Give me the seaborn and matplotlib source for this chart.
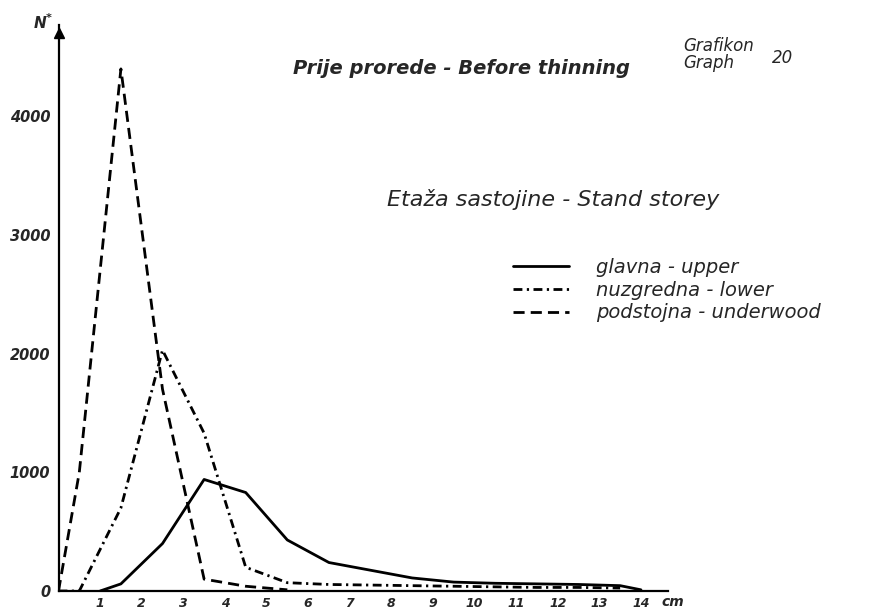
import matplotlib
matplotlib.use("Agg")
import matplotlib.pyplot as plt
import seaborn as sns

# diameter class midpoints (cm) and number of trees N* per storey
UPPER_D = [1.0, 1.5, 2.5, 3.5, 4.5, 5.5, 6.5, 7.5, 8.5, 9.5, 10.5, 11.5, 12.5, 13.5, 14.0]
UPPER_N = [0, 60, 400, 940, 830, 430, 240, 175, 110, 75, 65, 60, 55, 45, 10]

LOWER_D = [0.0, 0.5, 1.5, 2.5, 3.5, 4.5, 5.5, 6.5, 7.5, 8.5, 9.5, 10.5, 11.5, 12.5, 13.5]
LOWER_N = [0, 0, 700, 2030, 1330, 200, 70, 55, 50, 45, 40, 35, 30, 30, 25]

UNDER_D = [0.0, 0.5, 1.5, 2.5, 3.5, 4.5, 5.5]
UNDER_N = [0, 1000, 4400, 1700, 100, 40, 10]

LABELS = ["glavna - upper", "nuzgredna - lower", "podstojna - underwood"]
X_TICKS = list(range(1, 15))
Y_TICKS = [0, 1000, 2000, 3000, 4000]
Y_MINOR = [500, 1500, 2500, 3500, 4500]

W, H = 890, 609

sns.set_theme(style="white")
plt.rcParams["font.family"] = ["DejaVu Sans"]

fig = plt.figure(figsize=(W / 100, H / 100), dpi=100)
ax = fig.add_axes([58.5 / W, 18 / H, 609.5 / W, 566 / H])

# one line per storey, all black, told apart by dash style
sns.lineplot(x=UPPER_D, y=UPPER_N, ax=ax, color="black", lw=2.0, sort=False,
             label=LABELS[0])
sns.lineplot(x=LOWER_D, y=LOWER_N, ax=ax, color="black", lw=2.0, sort=False,
             linestyle=(0, (3.2, 1.6, 0.8, 1.6)), label=LABELS[1])
sns.lineplot(x=UNDER_D, y=UNDER_N, ax=ax, color="black", lw=2.0, sort=False,
             linestyle=(0, (4, 2.2)), label=LABELS[2])

ax.set_xlim(0, 14.65)
ax.set_ylim(0, 4770)
for side in ["top", "right"]:
    ax.spines[side].set_visible(False)
for side in ["left", "bottom"]:
    ax.spines[side].set_color("black")
    ax.spines[side].set_linewidth(1.6)

ax.set_xticks(X_TICKS)
ax.set_xticklabels([str(t) for t in X_TICKS], fontsize=9, style="italic", fontweight="bold")
ax.set_yticks(Y_TICKS)
ax.set_yticklabels([str(t) for t in Y_TICKS], fontsize=10.5, style="italic", fontweight="bold")
ax.set_yticks(Y_MINOR, minor=True)
ax.tick_params(axis="both", which="both", direction="in", length=7, width=1.4, color="black")
ax.tick_params(axis="x", pad=4)
ax.tick_params(axis="y", pad=6)
ax.set_xlabel("")
ax.set_ylabel("")

# arrow head on the y axis
ax.plot([0], [4700], marker="^", markersize=7, color="black", clip_on=False)
ax.text(14.5, -90, "cm", ha="left", va="center", fontsize=10, style="italic", fontweight="bold")

fig.text(40 / W, 1 - 24 / H, "N", ha="center", va="center", fontsize=11,
         style="italic", fontweight="bold")
fig.text(49 / W, 1 - 18 / H, "*", ha="center", va="center", fontsize=8, fontweight="bold")

fig.text(293 / W, 1 - 68 / H, "Prije prorede - Before thinning", ha="left", va="center",
         fontsize=14, style="italic", fontweight="bold")
fig.text(683 / W, 1 - 46 / H, "Grafikon", ha="left", va="center", fontsize=12, style="italic")
fig.text(683 / W, 1 - 63 / H, "Graph", ha="left", va="center", fontsize=12, style="italic")
fig.text(772 / W, 1 - 58 / H, "20", ha="left", va="center", fontsize=12, style="italic")
fig.text(387 / W, 1 - 200 / H, "Etaža sastojine - Stand storey", ha="left", va="center",
         fontsize=16, style="italic")

leg = ax.legend(loc="upper left", bbox_to_anchor=(503 / W, 1 - 248 / H),
                bbox_transform=fig.transFigure, frameon=False, fontsize=14,
                handlelength=2.9, handletextpad=1.4, labelspacing=0.2, borderpad=0)
for t in leg.get_texts():
    t.set_style("italic")

fig.savefig("out.png", dpi=100, facecolor="white")
